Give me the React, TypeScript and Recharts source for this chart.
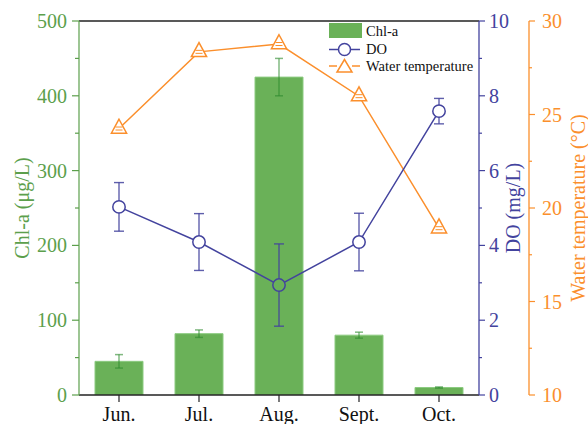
import React from "react";
import {
  ComposedChart,
  Bar,
  Line,
  XAxis,
  YAxis,
  ErrorBar,
  ReferenceLine,
  Legend,
} from "recharts";

const months = ["Jun.", "Jul.", "Aug.", "Sept.", "Oct."];
const chlA = [45, 82, 425, 80, 10];
const chlAErr = [9, 5, 25, 4, 0.8];
const dissolvedO2 = [5.03, 4.09, 2.94, 4.09, 7.59];
const dissolvedO2Err = [0.65, 0.76, 1.1, 0.77, 0.34];
const waterTemp = [24.25, 28.35, 28.77, 25.98, 18.92];
const waterTempErr = [0.1, 0.1, 0.1, 0.1, 0.1];

const chlTicks = [0, 50, 100, 150, 200, 250, 300, 350, 400, 450, 500];
const doTicks = [0, 1, 2, 3, 4, 5, 6, 7, 8, 9, 10];
const tempTicks = [10, 12.5, 15, 17.5, 20, 22.5, 25, 27.5, 30];

const CHL_DOMAIN: [number, number] = [0, 500];
const DO_DOMAIN: [number, number] = [0, 10];
const TEMP_DOMAIN: [number, number] = [10, 30];

const BAR_FILL = "#6ab158";
const BAR_EDGE = "#8ccb80";
const GREEN = "#5c9f4c";
const BLUE = "#43439e";
const ORANGE = "#fb8f2c";
const FONT = '"Liberation Serif", "Times New Roman", Times, serif';
const fontStyle = { fontFamily: FONT };

const data = months.map((m, i) => ({
  month: m,
  chlA: chlA[i],
  chlAErr: chlAErr[i],
  dissolvedO2: dissolvedO2[i],
  dissolvedO2Err: dissolvedO2Err[i],
  waterTemp: waterTemp[i],
  waterTempErr: waterTempErr[i],
}));

const LeftTick = (props: any) => {
  const { x, y, payload } = props;
  const v = payload.value;
  const major = v % 100 === 0;
  return (
    <g>
      <line x1={x} x2={x - (major ? 7 : 4)} y1={y} y2={y} stroke={GREEN} strokeWidth={1.2} />
      {major && (
        <text x={x - 12} y={y} dy="0.35em" textAnchor="end" fill={GREEN} fontSize={20} style={fontStyle}>
          {v}
        </text>
      )}
    </g>
  );
};

const makeRightTick = (color: string, isMajor: (v: number) => boolean, gap: number) => (props: any) => {
  const { x, y, payload } = props;
  const v = payload.value;
  const major = isMajor(v);
  return (
    <g>
      <line x1={x} x2={x + (major ? 6 : 3)} y1={y} y2={y} stroke={color} strokeWidth={1.2} />
      {major && (
        <text x={x + gap} y={y} dy="0.35em" textAnchor="start" fill={color} fontSize={20} style={fontStyle}>
          {v}
        </text>
      )}
    </g>
  );
};

const DoTick = makeRightTick(BLUE, (v) => v % 2 === 0, 10);
const TempTick = makeRightTick(ORANGE, (v) => v % 5 === 0, 13);

const axisTitle = (text: string, color: string, dx: number) => (p: any) => {
  const vb = p.viewBox || {};
  const cx = (vb.x || 0) + dx;
  const cy = (vb.y || 0) + (vb.height || 0) / 2;
  return (
    <text
      x={cx}
      y={cy}
      transform={`rotate(-90 ${cx} ${cy})`}
      textAnchor="middle"
      dominantBaseline="central"
      fill={color}
      fontSize={20}
      style={fontStyle}
    >
      {text}
    </text>
  );
};

const DoDot = (props: any) => {
  const { cx, cy, payload } = props;
  if (cx == null || cy == null) return <g />;
  const inside =
    (payload.dissolvedO2 - DO_DOMAIN[0]) / (DO_DOMAIN[1] - DO_DOMAIN[0]) <
    (payload.chlA - CHL_DOMAIN[0]) / (CHL_DOMAIN[1] - CHL_DOMAIN[0]);
  return <circle cx={cx} cy={cy} r={6.2} fill={inside ? BAR_FILL : "#fff"} stroke={BLUE} strokeWidth={1.5} />;
};

const TriDot = (props: any) => {
  const { cx, cy } = props;
  if (cx == null || cy == null) return <g />;
  const pts = `${cx},${cy - 9.3} ${cx - 7.6},${cy + 4.7} ${cx + 7.6},${cy + 4.7}`;
  return (
    <g>
      <polygon points={pts} fill="#fff" stroke={ORANGE} strokeWidth={1.5} />
      <line x1={cx - 3.5} x2={cx + 3.5} y1={cy - 1.5} y2={cy - 1.5} stroke={ORANGE} strokeWidth={1} />
      <line x1={cx - 3.5} x2={cx + 3.5} y1={cy + 1.5} y2={cy + 1.5} stroke={ORANGE} strokeWidth={1} />
    </g>
  );
};

const LegendContent = () => (
  <svg width={160} height={58} style={{ display: "block" }}>
    <rect x={3} y={4} width={33} height={15} fill={BAR_FILL} />
    <text x={40} y={17} fontSize={14.5} style={fontStyle} fill="#111">Chl-a</text>
    <line x1={3} x2={12} y1={30.5} y2={30.5} stroke={BLUE} strokeWidth={1.5} />
    <line x1={25} x2={34} y1={30.5} y2={30.5} stroke={BLUE} strokeWidth={1.5} />
    <circle cx={18.5} cy={30.5} r={6} fill="#fff" stroke={BLUE} strokeWidth={1.5} />
    <text x={40} y={35} fontSize={14.5} style={fontStyle} fill="#111">DO</text>
    <line x1={3} x2={11} y1={47} y2={47} stroke={ORANGE} strokeWidth={1.5} />
    <line x1={26} x2={34} y1={47} y2={47} stroke={ORANGE} strokeWidth={1.5} />
    <polygon points="18.5,40.5 11,53 26,53" fill="#fff" stroke={ORANGE} strokeWidth={1.5} />
    <text x={40} y={52} fontSize={14.5} style={fontStyle} fill="#111">Water temperature</text>
  </svg>
);

export default function App() {
  return (
    <div style={{ position: "absolute", left: 0, top: 0, background: "#fff", fontFamily: FONT }}>
      <ComposedChart
        width={588}
        height={424}
        data={data}
        margin={{ top: 21, right: 0, bottom: 0, left: 0 }}
        barCategoryGap="20%"
      >
        <XAxis
          dataKey="month"
          xAxisId="x"
          height={29}
          tickSize={7}
          tickMargin={5}
          interval={0}
          axisLine={{ stroke: "#222", strokeWidth: 1.3 }}
          tickLine={{ stroke: "#222", strokeWidth: 1.2 }}
          tick={{ fill: "#111", fontSize: 20, fontFamily: FONT }}
        />
        <YAxis
          yAxisId="chl"
          orientation="left"
          width={79}
          domain={CHL_DOMAIN}
          ticks={chlTicks}
          interval={0}
          tickSize={0}
          tickMargin={0}
          tickLine={false}
          tick={LeftTick}
          axisLine={{ stroke: GREEN, strokeWidth: 1.2 }}
          allowDataOverflow
          label={{ content: axisTitle("Chl-a (\u03bcg/L)", GREEN, 22) }}
        />
        <YAxis
          yAxisId="do"
          orientation="right"
          width={50}
          domain={DO_DOMAIN}
          ticks={doTicks}
          interval={0}
          tickSize={0}
          tickMargin={0}
          tickLine={false}
          tick={DoTick}
          axisLine={{ stroke: BLUE, strokeWidth: 1.3 }}
          allowDataOverflow
          label={{ content: axisTitle("DO (mg/L)", BLUE, 34) }}
        />
        <YAxis
          yAxisId="temp"
          orientation="right"
          width={59}
          domain={TEMP_DOMAIN}
          ticks={tempTicks}
          interval={0}
          tickSize={0}
          tickMargin={0}
          tickLine={false}
          tick={TempTick}
          axisLine={{ stroke: ORANGE, strokeWidth: 1.3 }}
          allowDataOverflow
          label={{ content: axisTitle("Water temperature (\u00b0C)", ORANGE, 49) }}
        />
        <ReferenceLine xAxisId="x" yAxisId="chl" y={500} stroke="#222" strokeWidth={1.3} />
        <Bar
          xAxisId="x"
          yAxisId="chl"
          dataKey="chlA"
          fill={BAR_FILL}
          stroke={BAR_EDGE}
          strokeWidth={1}
          isAnimationActive={false}
        >
          <ErrorBar dataKey="chlAErr" width={4} stroke="#2d8a2d" strokeOpacity={0.6} strokeWidth={1.5} direction="y" />
        </Bar>
        <Line
          xAxisId="x"
          yAxisId="temp"
          dataKey="waterTemp"
          stroke={ORANGE}
          strokeWidth={1.5}
          dot={TriDot}
          activeDot={false}
          isAnimationActive={false}
        />
        <Line
          xAxisId="x"
          yAxisId="do"
          dataKey="dissolvedO2"
          stroke={BLUE}
          strokeWidth={1.5}
          dot={DoDot}
          activeDot={false}
          isAnimationActive={false}
        >
          <ErrorBar dataKey="dissolvedO2Err" width={5} stroke={BLUE} strokeOpacity={0.85} strokeWidth={1.4} direction="y" />
        </Line>
        <Legend
          layout="vertical"
          verticalAlign="middle"
          align="center"
          content={LegendContent}
          wrapperStyle={{ left: 326, top: 19, width: 160, height: 58 }}
        />
      </ComposedChart>
    </div>
  );
}
